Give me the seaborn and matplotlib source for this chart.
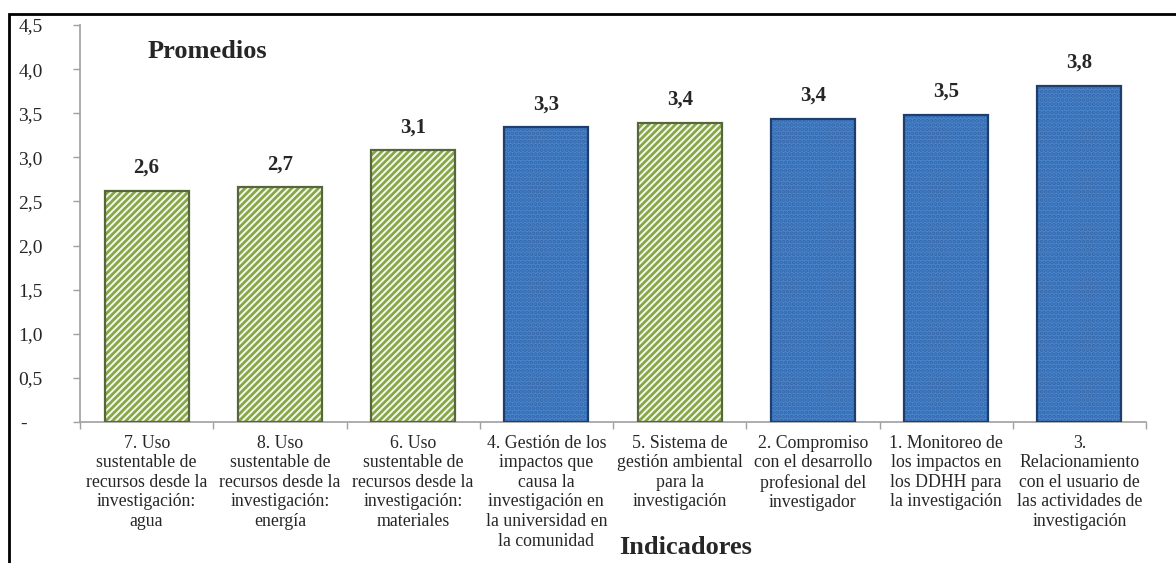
import matplotlib
matplotlib.use("Agg")
import matplotlib.pyplot as plt
import seaborn as sns
import pandas as pd
from matplotlib.patches import Rectangle

categories = [
    "7. Uso\nsustentable de\nrecursos desde la\ninvestigación:\nagua",
    "8. Uso\nsustentable de\nrecursos desde la\ninvestigación:\nenergía",
    "6. Uso\nsustentable de\nrecursos desde la\ninvestigación:\nmateriales",
    "4. Gestión de los\nimpactos que\ncausa la\ninvestigación en\nla universidad en\nla comunidad",
    "5. Sistema de\ngestión ambiental\npara la\ninvestigación",
    "2. Compromiso\ncon el desarrollo\nprofesional del\ninvestigador",
    "1. Monitoreo de\nlos impactos en\nlos DDHH para\nla investigación",
    "3.\nRelacionamiento\ncon el usuario de\nlas actividades de\ninvestigación",
]
values = [2.62, 2.66, 3.08, 3.34, 3.39, 3.44, 3.48, 3.81]
groups = ["verde", "verde", "verde", "azul", "verde", "azul", "azul", "azul"]
ytick_values = [0, 0.5, 1.0, 1.5, 2.0, 2.5, 3.0, 3.5, 4.0, 4.5]
ytick_labels = ["-   ", "0,5", "1,0", "1,5", "2,0", "2,5", "3,0", "3,5", "4,0", "4,5"]

sns.set_style("white")
plt.rcParams['font.family'] = ['Liberation Serif', 'DejaVu Serif']
plt.rcParams['hatch.linewidth'] = 2.0

W, H = 1176, 563
fig = plt.figure(figsize=(W / 100, H / 100), dpi=100)
ax = fig.add_axes([80 / W, 1 - 422 / H, (1146 - 80) / W, (422 - 25) / H])

df = pd.DataFrame({"cat": categories, "val": values, "grp": groups})
palette = {"verde": "#F3F6E6", "azul": "#4A85CC"}
sns.barplot(data=df, x="cat", y="val", hue="grp", palette=palette,
            dodge=False, width=0.63, legend=False, ax=ax, saturation=1)

# style bars
patches = [p for p in ax.patches if p.get_height() > 0]
patches.sort(key=lambda p: p.get_x())
for p, g in zip(patches, groups):
    if g == "verde":
        p.set_facecolor("#F5F8EA")
        p.set_hatch("/////")
        p.set_edgecolor("#86A64A")
        p.set_linewidth(0)
    else:
        p.set_facecolor("#4A86CF")
        p.set_hatch("....")
        p.set_edgecolor("#3567A8")
        p.set_linewidth(0)

# darker bevel outline
for p, g in zip(patches, groups):
    ec = "#56683A" if g == "verde" else "#1E3E6E"
    ax.add_patch(Rectangle((p.get_x(), 0), p.get_width(), p.get_height(),
                           fill=False, edgecolor=ec, linewidth=1.6, zorder=3))

# value labels
for i, v in enumerate(values):
    ax.annotate(f"{v:.1f}".replace(".", ","), (i, v), xytext=(0, 13),
                textcoords="offset points", ha="center", va="baseline",
                fontsize=15, fontweight="bold")

ax.set_ylim(0, 4.5)
ax.set_xlim(-0.5, len(categories) - 0.5)
ax.set_yticks(ytick_values)
ax.set_yticklabels(ytick_labels, fontsize=14)
for lab in ax.get_yticklabels():
    lab.set_horizontalalignment("right")
ax.tick_params(axis="y", which="major", direction="out", length=5, width=1,
               color="#A0A0A0", pad=22, left=True)

ax.set_xticks(range(len(categories)))
ax.set_xticklabels(categories, fontsize=12.8, linespacing=1.2)
ax.tick_params(axis="x", which="major", length=0, pad=9)
ax.set_xticks([i - 0.5 for i in range(len(categories) + 1)], minor=True)
ax.tick_params(axis="x", which="minor", direction="out", length=5, width=1,
               color="#A0A0A0", bottom=True)

ax.set_xlabel("")
ax.set_ylabel("")
for s in ["top", "right"]:
    ax.spines[s].set_visible(False)
for s in ["left", "bottom"]:
    ax.spines[s].set_color("#A0A0A0")
    ax.spines[s].set_linewidth(1.2)
ax.grid(False)

fig.text(148 / W, 1 - 52 / H, "Promedios", fontsize=19, fontweight="bold",
         ha="left", va="center")
fig.text(686 / W, 1 - 547 / H, "Indicadores", fontsize=19, fontweight="bold",
         ha="center", va="center")

# outer chart frame (top and left visible)
fig.patches.append(Rectangle((9 / W, -0.2), 1.5, 1 - 14 / H + 0.2,
                             transform=fig.transFigure, fill=False,
                             edgecolor="black", linewidth=2, zorder=10))

fig.savefig("out.png", dpi=100)
